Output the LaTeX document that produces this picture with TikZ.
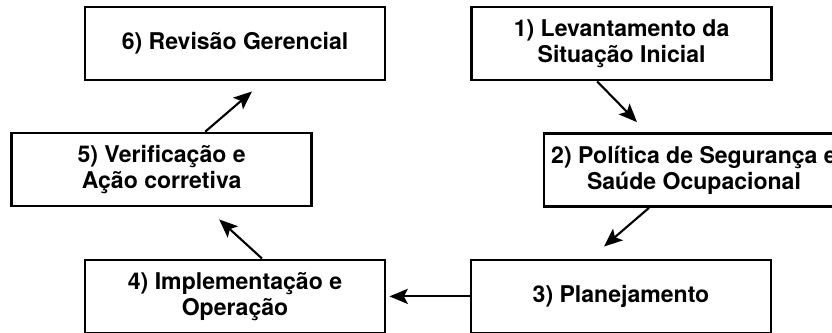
\documentclass[tikz,border=0pt]{standalone}
\usepackage{fontspec}
\setmainfont{TeX Gyre Heros}
\usepackage{tikz}
\usetikzlibrary{arrows.meta}
\tikzstyle{stage} = [rectangle, draw, line width=1.8pt, text centered, align=center, minimum width=7.5cm, minimum height=1.83cm, inner sep=1pt, font=\fontsize{16.4}{18.6}\selectfont\bfseries]
\tikzstyle{link} = [line width=1.5pt, -{Stealth[length=0.46cm, width=0.38cm, inset=0.1cm]}]

\begin{document}
\begin{tikzpicture}
        \useasboundingbox (0,0) rectangle (20.8,-8.325);
        \node (revisao) [stage] at (5.875,-1.09) {6) Revisão Gerencial};
        \node (levantamento) [stage, right of = revisao, xshift = 8.665cm] {1) Levantamento da \\ Situação Inicial};
        \node (verificacao) [stage, below of = revisao, xshift = -1.835cm, yshift = -2.15cm] {5) Verificação e \\ Ação corretiva};
        \node (politica) [stage, below of = levantamento, xshift = 1.81cm, yshift = -2.16cm] {2) Política de Segurança e \\ Saúde Ocupacional};
        \node (implementacao) [stage, below of = verificacao, xshift = 1.835cm, yshift = -2.17cm] {4) Implementação e \\ Operação};
        \node (planejamento) [stage, right of = implementacao, xshift = 8.65cm] {3) Planejamento};
        \draw [link] ([xshift=-0.61cm]levantamento.south) -- ([xshift=-1.425cm, yshift=0.25cm]politica.north);
        \draw [link] ([xshift=-1.125cm]politica.south) -- ([xshift=-0.425cm, yshift=0.3cm]planejamento.north);
        \draw [link] (planejamento.west) -- ([xshift=0.08cm]implementacao.east);
        \draw [link] ([xshift=0.675cm]implementacao.north) -- ([xshift=1.44cm, yshift=-0.3cm]verificacao.south);
        \draw [link] ([xshift=1.09cm]verificacao.north) -- ([xshift=0.425cm, yshift=-0.25cm]revisao.south);
    \end{tikzpicture}
\end{document}
